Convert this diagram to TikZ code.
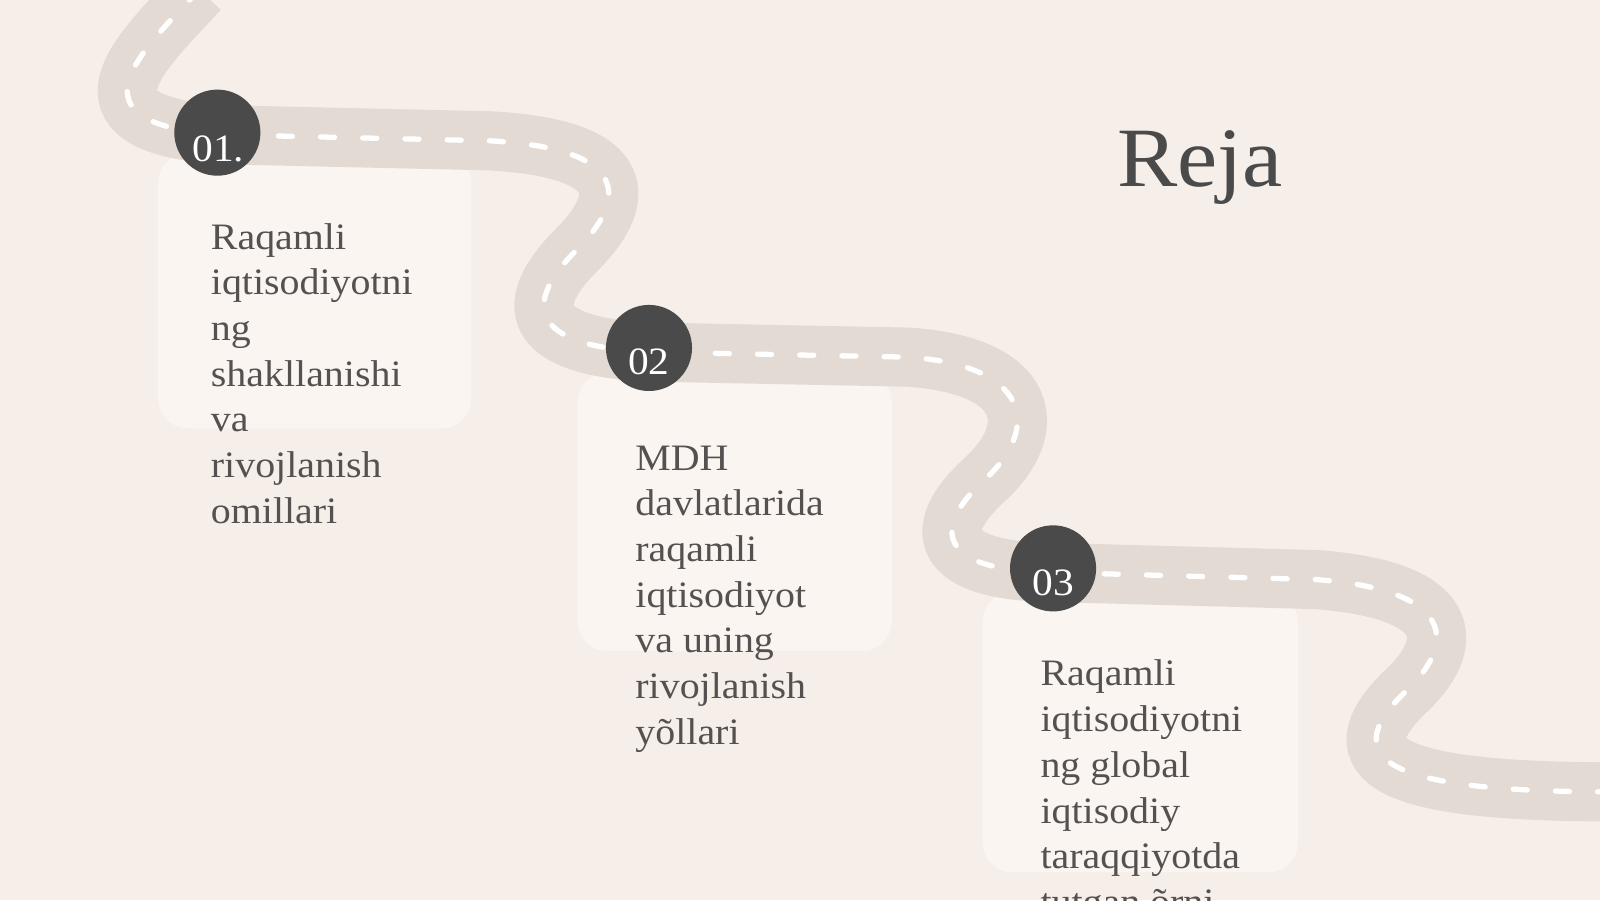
\documentclass[tikz,border=0pt]{standalone}
\usepackage{fontspec}
\setmainfont[FakeStretch=1.07]{Liberation Serif}
\definecolor{bg}{HTML}{F6EEE8}
\definecolor{card}{HTML}{FAF5F0}
\definecolor{road}{HTML}{E3DAD3}
\definecolor{dark}{HTML}{4A4A4A}
\definecolor{txt}{HTML}{555150}
\begin{document}
\begin{tikzpicture}[x=0.0102cm,y=-0.0102cm,
  cardbox/.style={fill=card,rounded corners=0.3cm,draw=none},
  badge/.style={circle,fill=dark,minimum size=0.86cm,inner sep=0pt},
  badgetext/.style={text=white,font=\fontsize{11}{11}\selectfont,inner sep=0pt},
  body/.style={anchor=north west,align=left,text=txt,inner sep=0pt,font=\fontsize{10.6}{13}\selectfont}]
\useasboundingbox (0,0) rectangle (1568,882);
\clip (0,0) rectangle (1568,882);
\fill[bg] (0,0) rectangle (1568,882);
\fill[cardbox] (155,150) rectangle (462,420);
\fill[cardbox] (566,365) rectangle (874,638);
\fill[cardbox] (963,580) rectangle (1272,855);
\def\roadpath{(195,-10) .. controls (140,50) and (60,120) .. (215,132) -- (480,138) .. controls (610,145) and (620,190) .. (565,245) .. controls (505,305) and (530,340) .. (636,345) -- (890,350) .. controls (1010,358) and (1020,420) .. (965,470) .. controls (905,525) and (930,560) .. (1032,561) -- (1290,568) .. controls (1425,578) and (1430,630) .. (1375,680) .. controls (1310,745) and (1360,776) .. (1580,776)}
\draw[road,line width=16.8pt] \roadpath;
\draw[white,line width=1.5pt,line cap=round,dash pattern=on 4pt off 8pt] \roadpath;
\node[badge] (b1) at (213,130) {};
\node[badge] (b2) at (636,341) {};
\node[badge] (b3) at (1032,557) {};
\node[badgetext] at (214,146) {01.};
\node[badgetext] at (636,355) {02};
\node[badgetext] at (1032,571) {03};
\node[anchor=base,text=dark,font=\fontsize{24}{24}\selectfont] (title) at (1176,183) {Reja};
\node[body] (t1) at (206,218) {Raqamli\\iqtisodiyotni\\ng\\shakllanishi\\va\\rivojlanish\\omillari};
\node[body] (t2) at (622,436) {MDH\\davlatlarida\\raqamli\\iqtisodiyot\\va uning\\rivojlanish\\yõllari};
\node[body] (t3) at (1019,646) {Raqamli\\iqtisodiyotni\\ng global\\iqtisodiy\\taraqqiyotda\\tutgan õrni};
\end{tikzpicture}
\end{document}
